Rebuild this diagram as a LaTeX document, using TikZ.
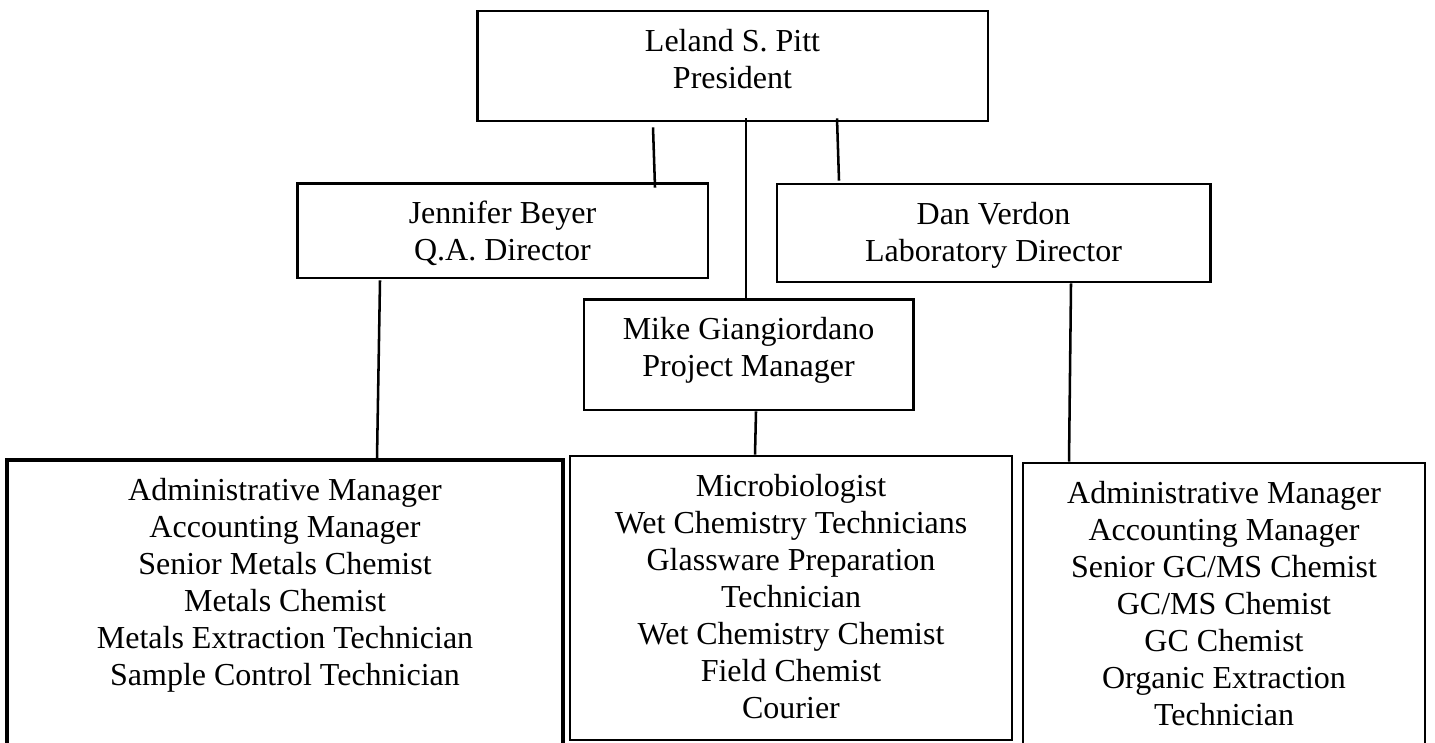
\documentclass[tikz,border=0pt]{standalone}
\usepackage{fontspec}
\setmainfont{Liberation Serif}
\usetikzlibrary{positioning, calc}

\tikzset{
  frame/.style={draw, rectangle, line width=1.1pt, inner sep=0pt},
  staff/.style={align=center, inner sep=0pt, font=\fontsize{12}{13.9}\selectfont},
  link/.style={line width=0.95pt}
}

\begin{document}
\begin{tikzpicture}[x=0.375pt, y=-0.375pt]
\clip (0,0) rectangle (1435,742);

% President
\node[frame, minimum width=191.6pt, minimum height=41.25pt] (pres) at (732.5,66) {};
\node[staff, below=7.2pt of pres.north] (prestext) {Leland S. Pitt\\President};

% Directors
\node[frame, minimum width=154.1pt, minimum height=35.6pt] (qa) at (502.5,230.5) {};
\node[staff, below=7.2pt of qa.north] (qatext) {Jennifer Beyer\\Q.A. Director};

\node[frame, minimum width=162.4pt, minimum height=36.75pt] (lab) at (993.5,233) {};
\node[staff, below=7.2pt of lab.north] (labtext) {Dan Verdon\\Laboratory Director};

% Project manager
\node[frame, minimum width=123.4pt, minimum height=41.6pt] (pm) at (748.5,354.5) {};
\node[staff, below=7.2pt of pm.north] (pmtext) {Mike Giangiordano\\Project Manager};

% Staff boxes
\node[frame, line width=1.3pt, minimum width=208.5pt, minimum height=127.5pt] (metals) at (285,630) {};
\node[staff, below=7.2pt of metals.north] (metalstext) {Administrative Manager\\Accounting Manager\\Senior Metals Chemist\\Metals Chemist\\Metals Extraction Technician\\Sample Control Technician};

\node[frame, minimum width=165.75pt, minimum height=106.5pt] (wet) at (791,598) {};
\node[staff, below=7.2pt of wet.north] (wettext) {Microbiologist\\Wet Chemistry Technicians\\Glassware Preparation\\Technician\\Wet Chemistry Chemist\\Field Chemist\\Courier};

\node[frame, minimum width=150.75pt, minimum height=126.4pt] (organic) at (1224,631.5) {};
\node[staff, below=7.2pt of organic.north] (organictext) {Administrative Manager\\Accounting Manager\\Senior GC/MS Chemist\\GC/MS Chemist\\GC Chemist\\Organic Extraction\\Technician};

% Reporting lines
\draw[link] ($(pres.south)+(-79.5,5)$) -- ($(qa.north)+(152.5,6)$);
\draw[link] ($(pres.south)+(13.5,-4)$) -- ($(pm.north)+(-2.5,0)$);
\draw[link] ($(pres.south)+(104.5,-4)$) -- ($(lab.north)+(-154.5,-2)$);
\draw[link] ($(qa.south)+(-122.5,1)$) -- ($(metals.north)+(92,0)$);
\draw[link] ($(pm.south)+(7.5,0)$) -- ($(wet.north)+(-36,0)$);
\draw[link] ($(lab.south)+(77.5,0)$) -- ($(organic.north)+(-155,0)$);
\end{tikzpicture}
\end{document}
